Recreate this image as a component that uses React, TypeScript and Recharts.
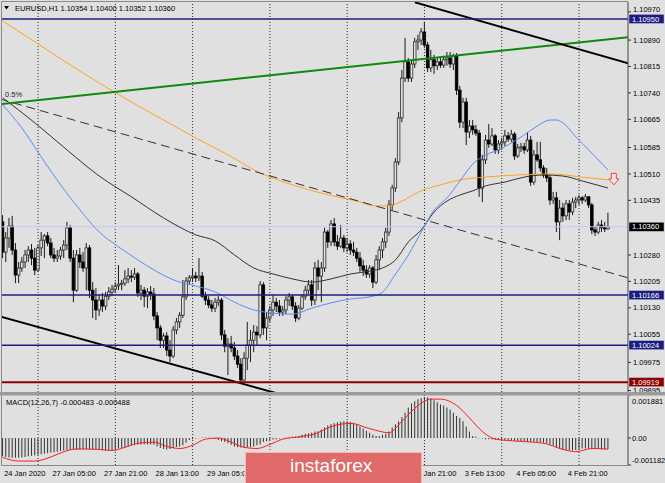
import React from 'react'
import {
  ComposedChart,
  Bar,
  Line,
  XAxis,
  YAxis,
  ReferenceLine,
  ReferenceDot,
} from 'recharts'

// EURUSD H1 candles, one per hour
const opens = [
  1.10374, 1.10288, 1.10328, 1.10362, 1.10294, 1.10223, 1.10243, 1.1026, 1.1028, 1.10294,
  1.10271, 1.10237, 1.103, 1.10322, 1.10334, 1.10314, 1.1028, 1.10271, 1.10277, 1.10294,
  1.10308, 1.10357, 1.10271, 1.1018, 1.1028, 1.1026, 1.10243, 1.103, 1.1018, 1.10152,
  1.10124, 1.10152, 1.10135, 1.10163, 1.10175, 1.10183, 1.10192, 1.10197, 1.102, 1.10212,
  1.1022, 1.10217, 1.10226, 1.10172, 1.1018, 1.10163, 1.10175, 1.10169, 1.10107, 1.10073,
  1.10038, 1.1005, 1.1001, 1.09993, 1.10067, 1.1009, 1.10109, 1.10161, 1.10206, 1.10215,
  1.1022, 1.10215, 1.1022, 1.10163, 1.10152, 1.10138, 1.10129, 1.10146, 1.10152, 1.10053,
  1.10021, 1.10027, 1.10016, 1.09993, 1.0997, 1.09925, 1.09987, 1.10024, 1.10038, 1.10061,
  1.10053, 1.10195, 1.10073, 1.10101, 1.10124, 1.10146, 1.10135, 1.10118, 1.10124, 1.10152,
  1.10161, 1.10135, 1.10101, 1.10129, 1.10161, 1.1018, 1.10195, 1.10152, 1.10243, 1.1022,
  1.10243, 1.10345, 1.10317, 1.10368, 1.10317, 1.10305, 1.10328, 1.103, 1.10311, 1.10294,
  1.10288, 1.10271, 1.10249, 1.10237, 1.10226, 1.10243, 1.10203, 1.10266, 1.10294, 1.10317,
  1.10345, 1.10422, 1.1047, 1.10544, 1.10669, 1.10782, 1.10828, 1.10782, 1.10822, 1.10885,
  1.1089, 1.10913, 1.10876, 1.10811, 1.10834, 1.10817, 1.10828, 1.10819, 1.10834, 1.10839,
  1.10822, 1.10845, 1.10748, 1.10657, 1.10714, 1.10629, 1.10646, 1.10635, 1.10626, 1.1047,
  1.1055, 1.10606, 1.10595, 1.10618, 1.10578, 1.10595, 1.10601, 1.10618, 1.10609, 1.10623,
  1.10561, 1.10584, 1.10587, 1.10578, 1.10606, 1.10487, 1.10564, 1.1055, 1.10527, 1.10507,
  1.10499, 1.10436, 1.10442, 1.10374, 1.10413, 1.10391, 1.10425, 1.10402, 1.1043, 1.10436,
  1.10442, 1.10436, 1.10445, 1.10422, 1.10351, 1.10345, 1.10365, 1.10357, 1.10354,
]
const highs = [
  1.10393, 1.10345, 1.10385, 1.10391, 1.10314, 1.1026, 1.10274, 1.10294, 1.10305, 1.10311,
  1.103, 1.10308, 1.10345, 1.10339, 1.10345, 1.10328, 1.103, 1.10294, 1.10303, 1.10322,
  1.10374, 1.10365, 1.10294, 1.10294, 1.103, 1.10288, 1.10314, 1.10308, 1.10203, 1.10186,
  1.10166, 1.10172, 1.10175, 1.10189, 1.10195, 1.10203, 1.10251, 1.10209, 1.10237, 1.10243,
  1.10237, 1.10243, 1.10232, 1.10195, 1.10189, 1.10186, 1.10192, 1.10186, 1.10118, 1.10081,
  1.10058, 1.10061, 1.10038, 1.10078, 1.10101, 1.10118, 1.10209, 1.10217, 1.10223, 1.10243,
  1.10232, 1.10271, 1.10232, 1.10175, 1.10163, 1.10152, 1.10158, 1.10163, 1.10158, 1.10067,
  1.10044, 1.1005, 1.10033, 1.1001, 1.09987, 1.10004, 1.1009, 1.10067, 1.10081, 1.10078,
  1.10206, 1.10203, 1.10118, 1.10135, 1.10166, 1.10158, 1.10152, 1.10135, 1.10163, 1.10172,
  1.10169, 1.10146, 1.10138, 1.10169, 1.10192, 1.10209, 1.10209, 1.1026, 1.10266, 1.1026,
  1.10357, 1.10351, 1.10379, 1.10385, 1.10337, 1.10365, 1.10337, 1.10328, 1.10322, 1.10317,
  1.103, 1.10288, 1.10266, 1.10251, 1.10251, 1.10249, 1.1028, 1.10305, 1.10328, 1.10357,
  1.10436, 1.10479, 1.10555, 1.10686, 1.10805, 1.10896, 1.10839, 1.10834, 1.10896, 1.10905,
  1.10924, 1.10942, 1.10885, 1.10862, 1.10848, 1.10839, 1.10839, 1.10845, 1.10856, 1.10856,
  1.10851, 1.10853, 1.1076, 1.10726, 1.10726, 1.10663, 1.10663, 1.10649, 1.10635, 1.10564,
  1.10621, 1.10652, 1.1064, 1.10623, 1.10606, 1.10612, 1.10635, 1.10629, 1.10635, 1.10629,
  1.10595, 1.10598, 1.10598, 1.10629, 1.10618, 1.10578, 1.10601, 1.10601, 1.10535, 1.10527,
  1.10507, 1.10459, 1.10459, 1.10436, 1.10428, 1.10436, 1.10436, 1.10442, 1.10445, 1.1045,
  1.10447, 1.10453, 1.10447, 1.10428, 1.10362, 1.10374, 1.10379, 1.10374, 1.104,
]
const lows = [
  1.10271, 1.1026, 1.103, 1.1028, 1.102, 1.102, 1.10232, 1.10243, 1.1026, 1.10251,
  1.10223, 1.10232, 1.10277, 1.10271, 1.10305, 1.10271, 1.1026, 1.1026, 1.10266, 1.10271,
  1.10294, 1.1026, 1.10146, 1.10175, 1.10243, 1.10232, 1.1018, 1.10158, 1.10101, 1.10095,
  1.10107, 1.10118, 1.10124, 1.10152, 1.10163, 1.10172, 1.1018, 1.1018, 1.10192, 1.102,
  1.10203, 1.10209, 1.10161, 1.10152, 1.10132, 1.10129, 1.10152, 1.10095, 1.10038, 1.10016,
  1.10016, 1.09993, 1.09976, 1.09987, 1.10055, 1.10073, 1.10101, 1.10152, 1.10195, 1.10203,
  1.10203, 1.10206, 1.10158, 1.10138, 1.10129, 1.10118, 1.10118, 1.10135, 1.10038, 1.10004,
  1.09939, 1.10004, 1.09982, 1.09959, 1.09919, 1.09922, 1.09953, 1.09976, 1.10004, 1.10024,
  1.10044, 1.10053, 1.10038, 1.1009, 1.10107, 1.10118, 1.10107, 1.10107, 1.10112, 1.10135,
  1.10124, 1.1009, 1.10095, 1.10124, 1.10152, 1.10169, 1.10135, 1.10138, 1.1018, 1.10146,
  1.10232, 1.103, 1.10305, 1.10305, 1.10294, 1.103, 1.10288, 1.10288, 1.1028, 1.10277,
  1.1026, 1.10232, 1.1022, 1.10215, 1.10215, 1.10186, 1.10197, 1.10237, 1.10271, 1.103,
  1.10334, 1.10408, 1.10459, 1.10535, 1.10657, 1.10771, 1.10771, 1.10771, 1.10811, 1.10862,
  1.10876, 1.10868, 1.10799, 1.10799, 1.10794, 1.10805, 1.10811, 1.10811, 1.10817, 1.10811,
  1.10805, 1.10734, 1.1064, 1.1064, 1.10592, 1.10612, 1.10621, 1.10618, 1.10445, 1.1043,
  1.10538, 1.10584, 1.10589, 1.10567, 1.10567, 1.10578, 1.10589, 1.10601, 1.10601, 1.1055,
  1.10555, 1.10572, 1.10567, 1.10572, 1.10476, 1.10479, 1.10544, 1.10516, 1.10499, 1.10487,
  1.10422, 1.10425, 1.10345, 1.10322, 1.10374, 1.10379, 1.10379, 1.10393, 1.10413, 1.10422,
  1.10425, 1.1043, 1.10413, 1.10339, 1.10334, 1.10339, 1.10345, 1.10345, 1.10352,
]
const closes = [
  1.10288, 1.10328, 1.10362, 1.10294, 1.10223, 1.10243, 1.1026, 1.1028, 1.10294, 1.10271,
  1.10237, 1.103, 1.10322, 1.10334, 1.10314, 1.1028, 1.10271, 1.10277, 1.10294, 1.10308,
  1.10357, 1.10271, 1.1018, 1.1028, 1.1026, 1.10243, 1.103, 1.1018, 1.10152, 1.10124,
  1.10152, 1.10135, 1.10163, 1.10175, 1.10183, 1.10192, 1.10197, 1.102, 1.10212, 1.1022,
  1.10217, 1.10226, 1.10172, 1.1018, 1.10163, 1.10175, 1.10169, 1.10107, 1.10073, 1.10038,
  1.1005, 1.1001, 1.09993, 1.10067, 1.1009, 1.10109, 1.10161, 1.10206, 1.10215, 1.1022,
  1.10215, 1.1022, 1.10163, 1.10152, 1.10138, 1.10129, 1.10146, 1.10152, 1.10053, 1.10021,
  1.10027, 1.10016, 1.09993, 1.0997, 1.09925, 1.09987, 1.10024, 1.10038, 1.10061, 1.10053,
  1.10195, 1.10073, 1.10101, 1.10124, 1.10146, 1.10135, 1.10118, 1.10124, 1.10152, 1.10161,
  1.10135, 1.10101, 1.10129, 1.10161, 1.1018, 1.10195, 1.10152, 1.10243, 1.1022, 1.10243,
  1.10345, 1.10317, 1.10368, 1.10317, 1.10305, 1.10328, 1.103, 1.10311, 1.10294, 1.10288,
  1.10271, 1.10249, 1.10237, 1.10226, 1.10243, 1.10203, 1.10266, 1.10294, 1.10317, 1.10345,
  1.10422, 1.1047, 1.10544, 1.10669, 1.10782, 1.10828, 1.10782, 1.10822, 1.10885, 1.1089,
  1.10913, 1.10876, 1.10811, 1.10834, 1.10817, 1.10828, 1.10819, 1.10834, 1.10839, 1.10822,
  1.10845, 1.10748, 1.10657, 1.10714, 1.10629, 1.10646, 1.10635, 1.10626, 1.1047, 1.1055,
  1.10606, 1.10595, 1.10618, 1.10578, 1.10595, 1.10601, 1.10618, 1.10609, 1.10623, 1.10561,
  1.10584, 1.10587, 1.10578, 1.10606, 1.10487, 1.10564, 1.1055, 1.10527, 1.10507, 1.10499,
  1.10436, 1.10442, 1.10374, 1.10413, 1.10391, 1.10425, 1.10402, 1.1043, 1.10436, 1.10442,
  1.10436, 1.10445, 1.10422, 1.10351, 1.10345, 1.10365, 1.10357, 1.10354, 1.1036,
]

// moving averages, read at a few bars (bar index -> price)
const blueIdx = [0, 6, 12, 18, 24, 30, 36, 42, 48, 54, 60, 66, 72, 78, 84, 90, 96, 102, 108, 114, 118, 122, 126, 130, 134, 138, 142, 146, 150, 154, 158, 162, 166, 170, 172, 174, 178, 182, 188]
const blueVals = [
  1.10706, 1.1064, 1.10558, 1.10479, 1.10408, 1.10345, 1.10303, 1.10266, 1.10232, 1.10206,
  1.10192, 1.10175, 1.10146, 1.10124, 1.10115, 1.10112, 1.10129, 1.10144, 1.10155, 1.10161,
  1.10175, 1.10226, 1.1028, 1.10345, 1.10408, 1.10442, 1.1049, 1.10538, 1.10564, 1.10578,
  1.10598, 1.10621, 1.10646, 1.10663, 1.10663, 1.10655, 1.10615, 1.10578, 1.10521,
]
const blackIdx = [0, 10, 20, 30, 40, 50, 60, 66, 72, 78, 84, 90, 96, 102, 108, 114, 118, 122, 126, 130, 134, 138, 142, 146, 150, 156, 162, 168, 174, 180, 188]
const blackVals = [
  1.10726, 1.10655, 1.10578, 1.10504, 1.10445, 1.10385, 1.10337, 1.1032, 1.1028, 1.10243,
  1.10226, 1.10212, 1.10203, 1.10212, 1.10226, 1.10234, 1.10243, 1.10266, 1.10317, 1.10351,
  1.10402, 1.10433, 1.1045, 1.10462, 1.10476, 1.10487, 1.10501, 1.10507, 1.10504, 1.1049,
  1.1047,
]
const orangeIdx = [0, 10, 20, 30, 40, 50, 60, 70, 80, 90, 100, 110, 116, 120, 124, 130, 136, 142, 150, 160, 170, 180, 188]
const orangeVals = [
  1.10944, 1.10885, 1.10825, 1.10768, 1.10714, 1.10663, 1.10612, 1.10564, 1.10513, 1.10479,
  1.10453, 1.10433, 1.10419, 1.10419, 1.10433, 1.10462, 1.10479, 1.10493, 1.10501, 1.10507,
  1.1051, 1.10501, 1.10493,
]

// MACD(12,26,7): main histogram per bar, signal read at a few bars
const macdMain = [
  -0.0008, -0.00083, -0.00085, -0.00087, -0.00087, -0.00087, -0.00085, -0.00083, -0.0008, -0.00078,
  -0.00076, -0.00073, -0.00071, -0.00069, -0.00067, -0.00064, -0.00062, -0.0006, -0.00057, -0.00055,
  -0.00053, -0.00051, -0.00052, -0.00051, -0.0005, -0.00049, -0.00049, -0.0005, -0.00051, -0.00052,
  -0.00053, -0.00054, -0.00055, -0.00055, -0.00054, -0.0005, -0.00046, -0.00044, -0.00041, -0.00037,
  -0.00032, -0.0003, -0.00028, -0.00028, -0.00027, -0.00028, -0.00029, -0.0003, -0.00037, -0.00044,
  -0.00048, -0.0005, -0.00048, -0.00044, -0.00039, -0.00037, -0.00032, -0.00021, -0.00009, -0.00005,
  -0.00002, -0.00001, 0.00002, 0.00002, 0.00001, -0.00001, -0.00003, -0.00009, -0.00014, -0.00018,
  -0.00023, -0.0003, -0.00037, -0.00041, -0.00042, -0.00042, -0.00041, -0.00041, -0.00037, -0.00032,
  -0.00028, -0.00018, -0.00014, -0.00009, -0.00007, -0.00005, -0.00002, -0.00001, 0.00001, 0.00002,
  0.00005, 0.00007, 0.00009, 0.00014, 0.00018, 0.00021, 0.00023, 0.00028, 0.0003, 0.00037,
  0.00046, 0.00055, 0.0006, 0.00064, 0.00069, 0.00071, 0.00073, 0.00073, 0.00071, 0.00067,
  0.0006, 0.0005, 0.00041, 0.00032, 0.00023, 0.00014, 0.00009, 0.00009, 0.00014, 0.00018,
  0.00028, 0.00046, 0.0006, 0.00073, 0.00092, 0.0011, 0.00133, 0.00151, 0.00161, 0.0017,
  0.00174, 0.00179, 0.00178, 0.00174, 0.00165, 0.00156, 0.00147, 0.00142, 0.00133, 0.00124,
  0.0011, 0.00096, 0.00087, 0.00073, 0.0005, 0.00028, 0.00009, 0.00005, -0.00001, -0.00002,
  -0.00005, -0.00005, -0.00007, -0.00007, -0.00009, -0.00009, -0.00009, -0.0001, -0.00011, -0.00012,
  -0.00014, -0.00014, -0.00014, -0.00015, -0.00016, -0.00016, -0.00018, -0.00019, -0.00021, -0.00023,
  -0.00028, -0.00034, -0.00041, -0.00046, -0.0005, -0.00053, -0.00055, -0.00055, -0.00053, -0.0005,
  -0.00046, -0.00046, -0.00047, -0.00047, -0.00048, -0.00048, -0.00049, -0.0005, -0.000483,
]
const signalIdx = [0, 5, 10, 15, 19, 23, 30, 34, 38, 42, 47, 51, 55, 59, 63, 67, 71, 75, 79, 83, 87, 92, 97, 102, 108, 114, 120, 124, 129, 133, 136, 141, 145, 149, 153, 160, 168, 174, 178, 183, 188]
const signalVals = [
  -0.00085, -0.00101, -0.00101, -0.00083, -0.0006, -0.00048, -0.0005, -0.00055, -0.00041, -0.00023,
  -0.00018, -0.00037, -0.00046, -0.00032, -0.00005, 0, -0.00018, -0.00041, -0.00046, -0.00028,
  -0.00005, 0.00005, 0.00018, 0.0005, 0.00064, 0.00041, 0.00023, 0.00073, 0.00142, 0.0017,
  0.0017, 0.00142, 0.00087, 0.00028, -0.00005, -0.00014, -0.00023, -0.0005, -0.0006, -0.00046,
  -0.000488,
]

// time axis (labels under the watermark are not visible in the screenshot)
const timeTicks = [0, 15, 31, 47, 63, 127, 143, 159, 175]
const timeLabels = [
  '24 Jan 2020', '27 Jan 05:00', '27 Jan 21:00', '28 Jan 13:00', '29 Jan 05:00',
  '31 Jan 21:00', '3 Feb 13:00', '4 Feb 05:00', '4 Feb 21:00',
]
const gridIdx = [11, 35, 59, 83, 107, 131, 155, 179]

// price axis + drawn objects
const priceTicks = [1.1097, 1.1089, 1.10815, 1.1074, 1.10665, 1.10585, 1.1051, 1.10435, 1.1028, 1.10205, 1.1013, 1.10055, 1.09975, 1.09895]
const navyLevels = [1.1095, 1.10166, 1.10024]
const redLevel = 1.09919
const bidPrice = 1.1036
const macdTicks = [0.001881, 0, -0.001182]
const greenTrend = [{ x: -1, y: 1.10708 }, { x: 195, y: 1.10899 }]
const channelTop = [{ x: 128, y: 1.10997 }, { x: 195, y: 1.10822 }]
const channelBottom = [{ x: -1, y: 1.10106 }, { x: 90, y: 1.09875 }]
const dashedTrend = [{ x: -1, y: 1.10723 }, { x: 195, y: 1.10213 }]
const arrowAt = { x: 189.8, y: 1.10496 }

const BG = '#e0e0e0'
const NAVY = '#1c1c80'
const DARKRED = '#8b0000'
const FONT = "'Liberation Sans', Arial, sans-serif"
const X_DOMAIN: [number, number] = [-0.2, 194.2]
const AXIS_X = 628

const toMap = (idx: number[], vals: number[]) => {
  const m = new Map<number, number>()
  idx.forEach((k, j) => m.set(k, vals[j]))
  return m
}
const blueMap = toMap(blueIdx, blueVals)
const blackMap = toMap(blackIdx, blackVals)
const orangeMap = toMap(orangeIdx, orangeVals)
const signalMap = toMap(signalIdx, signalVals)

const rows = closes.map((c, i) => ({
  i,
  o: opens[i],
  h: highs[i],
  l: lows[i],
  c,
  m: macdMain[i],
  sig: signalMap.get(i) ?? null,
  blue: blueMap.get(i) ?? null,
  black: blackMap.get(i) ?? null,
  orange: orangeMap.get(i) ?? null,
}))

function Candle(props: any) {
  const { x, y, width, height, payload } = props
  if (!payload || y == null || height == null) return null
  const { o, h, l, c } = payload
  const top = Math.min(y, y + height)
  const span = Math.abs(height)
  const ppu = span / (h - l || 1e-9)
  const cx = x + width / 2
  const bTop = top + (h - Math.max(o, c)) * ppu
  const bBot = top + (h - Math.min(o, c)) * ppu
  const bull = c >= o
  return (
    <g>
      <line x1={cx} x2={cx} y1={top} y2={top + span} stroke="#1a1a1a" strokeWidth={1} />
      <rect
        x={cx - 1.3}
        y={bTop}
        width={2.6}
        height={Math.max(bBot - bTop, 0.8)}
        fill={bull ? BG : '#000'}
        stroke={bull ? '#2a2a2a' : '#000'}
        strokeWidth={0.8}
      />
    </g>
  )
}

function PriceTick(props: any) {
  const { y, payload } = props
  const v = payload.value
  let box: string | null = null
  if (navyLevels.includes(v)) box = NAVY
  else if (v === redLevel) box = DARKRED
  else if (v === bidPrice) box = '#000'
  if (box) {
    return (
      <g>
        <rect x={AXIS_X + 1} y={y - 4.5} width={35} height={9} fill={box} stroke="#b8b8d0" strokeWidth={0.5} />
        <text x={AXIS_X + 4} y={y + 2.7} fontSize={7.5} fontFamily={FONT} fill="#fff">
          {v.toFixed(5)}
        </text>
      </g>
    )
  }
  // the topmost label sits tight under the frame, as in the terminal
  const lift = v === priceTicks[0] ? -2.5 : 0
  return (
    <g>
      <line x1={AXIS_X} x2={AXIS_X + 3} y1={y} y2={y} stroke="#333" />
      <text x={AXIS_X + 5} y={y + 2.7 + lift} fontSize={7.5} fontFamily={FONT} fill="#000">
        {v.toFixed(5)}
      </text>
    </g>
  )
}

function MacdTick(props: any) {
  const { y, payload } = props
  const v = payload.value
  const dy = v > 0 ? 6 : v < 0 ? -5 : 0
  return (
    <g>
      <line x1={AXIS_X} x2={AXIS_X + 3} y1={y} y2={y} stroke="#333" />
      <text x={AXIS_X + 4} y={y + dy + 2.7} fontSize={7.5} fontFamily={FONT} fill="#000">
        {v === 0 ? '0.00' : v.toFixed(6)}
      </text>
    </g>
  )
}

function TimeTick(props: any) {
  const { x, payload } = props
  const k = timeTicks.indexOf(payload.value)
  return (
    <text x={x + 1.5} y={84} fontSize={7.5} fontFamily={FONT} fill="#000">
      {timeLabels[k]}
    </text>
  )
}

function DownArrow(props: any) {
  const { cx, cy } = props
  if (cx == null || cy == null) return null
  const d = `M${cx - 2.5},${cy - 5.5} L${cx + 2.5},${cy - 5.5} L${cx + 2.5},${cy} L${cx + 5.2},${cy} L${cx},${cy + 6} L${cx - 5.2},${cy} L${cx - 2.5},${cy} Z`
  return <path d={d} fill="#fbe4e4" stroke="#e8453c" strokeWidth={1} />
}

export default function App() {
  return (
    <div style={{ position: 'absolute', left: 0, top: 0, width: 665, height: 483, background: BG, overflow: 'hidden' }}>
      <div style={{ position: 'absolute', left: 0, top: 0 }}>
        <ComposedChart width={665} height={395} data={rows} margin={{ top: 2, right: 0, bottom: 3, left: 2 }}>
          <XAxis type="number" dataKey="i" domain={X_DOMAIN} allowDataOverflow hide />
          <YAxis
            orientation="right"
            width={37}
            domain={[1.09891, 1.10998]}
            allowDataOverflow
            ticks={[...priceTicks, ...navyLevels, redLevel, bidPrice]}
            interval={0}
            tick={(p: any) => <PriceTick {...p} />}
            tickLine={false}
            axisLine={{ stroke: '#444' }}
          />
          {gridIdx.map((g) => (
            <ReferenceLine key={g} x={g} stroke="#2b2b2b" strokeDasharray="1 2" />
          ))}
          <ReferenceLine y={bidPrice} stroke="#c9c9f0" />
          <Line dataKey="orange" type="monotone" stroke="#ffa41c" strokeWidth={1} dot={false} activeDot={false} connectNulls isAnimationActive={false} />
          <Line dataKey="black" type="monotone" stroke="#333" strokeWidth={1} dot={false} activeDot={false} connectNulls isAnimationActive={false} />
          <Line dataKey="blue" type="monotone" stroke="#5b8ef0" strokeWidth={1} dot={false} activeDot={false} connectNulls isAnimationActive={false} />
          <ReferenceLine segment={dashedTrend} stroke="#333" strokeDasharray="9 5" ifOverflow="hidden" />
          <Bar dataKey={(d: any) => [d.l, d.h]} barSize={3} shape={(p: any) => <Candle {...p} />} isAnimationActive={false} />
          <ReferenceLine segment={greenTrend} stroke="#0b8a0b" strokeWidth={2} ifOverflow="hidden" />
          <ReferenceLine segment={channelTop} stroke="#000" strokeWidth={2} ifOverflow="hidden" />
          <ReferenceLine segment={channelBottom} stroke="#000" strokeWidth={2} ifOverflow="hidden" />
          {navyLevels.map((v) => (
            <ReferenceLine key={v} y={v} stroke={NAVY} strokeWidth={1.5} />
          ))}
          <ReferenceLine y={redLevel} stroke={DARKRED} strokeWidth={2} />
          <ReferenceDot x={arrowAt.x} y={arrowAt.y} r={0} shape={(p: any) => <DownArrow {...p} />} />
        </ComposedChart>
      </div>
      <div style={{ position: 'absolute', left: 0, top: 392 }}>
        <ComposedChart width={665} height={91} data={rows} margin={{ top: 3, right: 0, bottom: 0, left: 2 }}>
          <XAxis
            type="number"
            dataKey="i"
            domain={X_DOMAIN}
            allowDataOverflow
            ticks={timeTicks}
            interval={0}
            height={18}
            tick={(p: any) => <TimeTick {...p} />}
            axisLine={false}
            tickLine={false}
          />
          <YAxis
            orientation="right"
            width={37}
            domain={[-0.001182, 0.001881]}
            allowDataOverflow
            ticks={macdTicks}
            interval={0}
            tick={(p: any) => <MacdTick {...p} />}
            tickLine={false}
            axisLine={{ stroke: '#444' }}
          />
          {gridIdx.map((g) => (
            <ReferenceLine key={g} x={g} stroke="#2b2b2b" strokeDasharray="1 2" />
          ))}
          <Bar dataKey="m" barSize={1} fill="#333" isAnimationActive={false} />
          <Line dataKey="sig" type="monotone" stroke="#ff1a1a" strokeWidth={1} dot={false} activeDot={false} connectNulls isAnimationActive={false} />
        </ComposedChart>
      </div>
      <svg style={{ position: 'absolute', left: 0, top: 0, pointerEvents: 'none' }} width={665} height={483}>
        <line x1={1.5} x2={1.5} y1={1.5} y2={392} stroke="#8a8a8a" />
        <line x1={1.5} x2={AXIS_X} y1={1.5} y2={1.5} stroke="#8a8a8a" />
        <rect x={0} y={392} width={665} height={3.5} fill="#9c9c9c" />
        <line x1={1.5} x2={1.5} y1={395} y2={465.5} stroke="#8a8a8a" />
        <line x1={1.5} x2={AXIS_X} y1={465.5} y2={465.5} stroke="#8a8a8a" />
        <path d="M4,6 L9,6 L6.5,9.5 Z" fill="#000" />
        <text x={15} y={10.7} fontSize={7.5} fontFamily={FONT} fill="#000">
          EURUSD,H1  1.10354 1.10400 1.10352 1.10360
        </text>
        <text x={5} y={97} fontSize={7.5} fontFamily={FONT} fill="#222">
          0.5%
        </text>
        <text x={6} y={405} fontSize={7.5} fontFamily={FONT} fill="#000">
          MACD(12,26,7) -0.000483 -0.000488
        </text>
        <rect x={245} y={452} width={177} height={32} fill="#e06a6a" stroke="#f2d6d6" strokeWidth={1.5} />
        <text x={290} y={472} fontSize={19} fontFamily={FONT} fill="#fff">
          instaforex
        </text>
      </svg>
    </div>
  )
}
